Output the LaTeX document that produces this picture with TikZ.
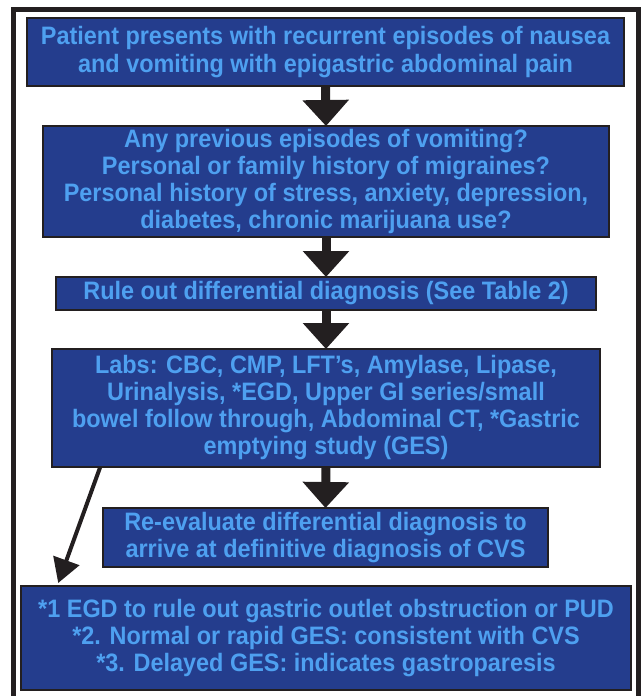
\documentclass[tikz,border=0pt]{standalone}
\usepackage{fontspec}
\setmainfont{Liberation Sans}[FakeStretch=0.93]
\usepackage{xcolor}
\usetikzlibrary{arrows.meta,positioning,calc}

\definecolor{boxblue}{RGB}{36,61,141}
\definecolor{textblue}{RGB}{78,160,240}
\definecolor{inkdark}{RGB}{35,31,32}

\begin{document}
\begin{tikzpicture}[
            x=1pt, y=-1pt,
            box/.style={rectangle, draw=inkdark, line width=2pt, fill=boxblue, text=textblue,
                        outer sep=0pt, inner sep=0pt, align=center,
                        font=\fontsize{25.2}{27}\selectfont\bfseries},
            bigarrow/.style={inkdark, line width=9pt, -{Triangle[width=45pt,length=26pt]}},
            thinarrow/.style={inkdark, line width=4pt, -{Triangle[width=27pt,length=24pt]}}
        ]
            \useasboundingbox (0,0) rectangle (641,696);

            % Frame
            \draw[inkdark, line width=5pt] (13.5,696) -- (13.5,9.5) -- (638.5,9.5) -- (638.5,696);

            % Boxes
            \node[box, minimum width=597pt, minimum height=68pt] (pres) at (325.5,52)
                {Patient presents with recurrent episodes of nausea\\[1pt]and vomiting with epigastric abdominal pain};
            \node[box, minimum width=566pt, minimum height=111pt] (hist) at (326,181.5)
                {Any previous episodes of vomiting?\\Personal or family history of migraines?\\Personal history of stress, anxiety, depression,\\diabetes, chronic marijuana use?};
            \node[box, minimum width=540pt, minimum height=33pt] (ruleout) at (326,293.5)
                {Rule out differential diagnosis (See Table 2)};
            \node[box, minimum width=548pt, minimum height=118pt] (labs) at (326,408)
                {Labs: CBC, CMP, LFT’s, Amylase, Lipase,\\Urinalysis, *EGD, Upper GI series/small\\bowel follow through, Abdominal CT, *Gastric\\emptying study (GES)};
            \node[box, minimum width=445pt, minimum height=59pt] (reeval) at (325.5,537.5)
                {Re-evaluate differential diagnosis to\\arrive at definitive diagnosis of CVS};
            \node[box, minimum width=610pt, minimum height=104pt] (notes) at (326,638)
                {*1 EGD to rule out gastric outlet obstruction or PUD\\*2. Normal or rapid GES: consistent with CVS\\*3. Delayed GES: indicates gastroparesis};

            % Arrows
            \draw[bigarrow] (pres.south) -- (hist.north);
            \draw[bigarrow] (hist.south) -- (ruleout.north);
            \draw[bigarrow] (ruleout.south) -- (labs.north);
            \draw[bigarrow] (labs.south) -- (reeval.north);
            \coordinate (diagstart) at ($(labs.south west)!0.088!(labs.south east)$);
            \coordinate (diagend) at ($(notes.north west)!0.061!(notes.north east)+(0,-3)$);
            \draw[thinarrow] (diagstart) -- (diagend);
        \end{tikzpicture}
\end{document}
